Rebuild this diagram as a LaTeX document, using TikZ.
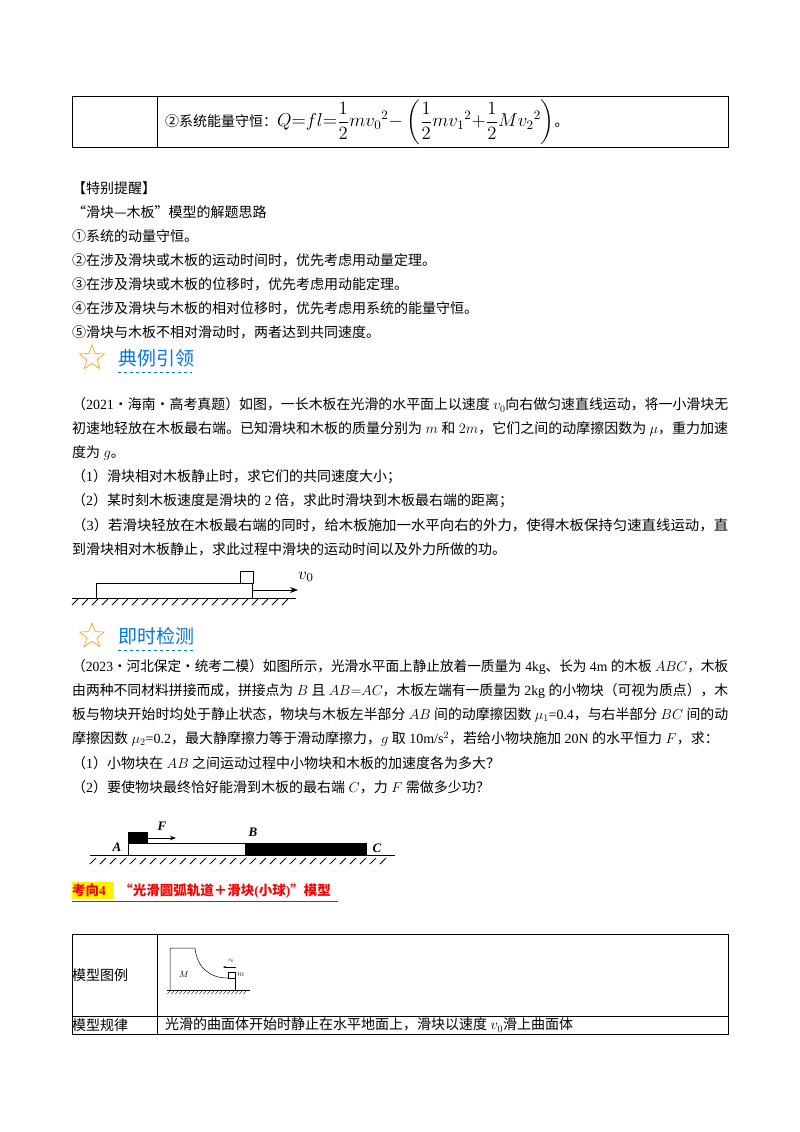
\documentclass[tikz,border=0pt]{standalone}
\usepackage{fontspec}
\usepackage{amsmath}
\setmainfont{Liberation Serif}
\newfontfamily\cjk{Noto Sans CJK SC}
\newcommand\lat[1]{{\rmfamily #1}}
\newcommand\fl[1]{\resizebox{656pt}{\height}{#1}}
\usetikzlibrary{shapes.geometric,arrows.meta,patterns}
\begin{document}
\begin{tikzpicture}[x=1pt,y=-1pt,
  txt/.style={anchor=west,inner sep=0,font=\cjk\fontsize{14}{16}\selectfont},
  head/.style={anchor=west,inner sep=0,text=blue!55!cyan,font=\cjk\fontsize{19}{22}\selectfont},
  stars/.style={star,star points=5,star point ratio=2.4,draw=orange!80!yellow,minimum size=26pt,inner sep=0,line width=0.6pt}]
\useasboundingbox (0,0) rectangle (800,1132);
\fill[white] (0,0) rectangle (800,1132);
% table 1
\draw[line width=0.8pt] (72,96) rectangle (728,147) (157,96) -- (157,147);
\node[txt] (f1) at (165,122) {②系统能量守恒：\scalebox{1.3}{\lat{$Q{=}fl{=}\dfrac12mv_0{}^2{-}\left(\dfrac12mv_1{}^2{+}\dfrac12Mv_2{}^2\right)$}}。};
\node[txt] (t1) at (72,188) {【特别提醒】};
\node[txt] (t2) at (72,212) {“滑块—木板”模型的解题思路};
\node[txt] (t3) at (72,236) {①系统的动量守恒。};
\node[txt] (t4) at (72,260) {②在涉及滑块或木板的运动时间时，优先考虑用动量定理。};
\node[txt] (t5) at (72,284) {③在涉及滑块或木板的位移时，优先考虑用动能定理。};
\node[txt] (t6) at (72,308) {④在涉及滑块与木板的相对位移时，优先考虑用系统的能量守恒。};
\node[txt] (t7) at (72,332) {⑤滑块与木板不相对滑动时，两者达到共同速度。};
\node[stars] (s1) at (92,358) {};
\node[head] (h1) at (118,358) {典例引领};
\draw[blue!55!cyan,dashed] (118,372) -- (192,372);
\node[txt] (p1) at (72,405) {\fl{（\lat{2021}·海南·高考真题）如图，一长木板在光滑的水平面上以速度\lat{ $v_0$}向右做匀速直线运动，将一小滑块无}};
\node[txt] (p2) at (72,429) {\fl{初速地轻放在木板最右端。已知滑块和木板的质量分别为\lat{ $m$ }和\lat{ $2m$}，它们之间的动摩擦因数为\lat{ $\mu$}，重力加速}};
\node[txt] (p3) at (72,453) {度为\lat{ $g$}。};
\node[txt] (p4) at (72,477) {（\lat{1}）滑块相对木板静止时，求它们的共同速度大小；};
\node[txt] (p5) at (72,501) {（\lat{2}）某时刻木板速度是滑块的\lat{ 2 }倍，求此时滑块到木板最右端的距离；};
\node[txt] (p6) at (72,525) {\fl{（\lat{3}）若滑块轻放在木板最右端的同时，给木板施加一水平向右的外力，使得木板保持匀速直线运动，直}};
\node[txt] (p7) at (72,549) {到滑块相对木板静止，求此过程中滑块的运动时间以及外力所做的功。};
% figure 1
\draw[line width=1pt] (72,598) -- (296,598);
\foreach \x in {78,88,...,294} \draw[line width=1pt] (\x,599) -- ++(-6,6);
\draw[line width=0.7pt] (96,598) -- (96,583) -- (252,583) -- (252,598);
\draw[line width=0.7pt] (240,583) rectangle (253,571);
\draw[-{Stealth[length=8pt]},line width=0.8pt] (253,590) -- (298,590);
\node[inner sep=0] (v0) at (306,577) {\scalebox{1.7}{$v_0$}};
\node[stars] (s2) at (92,636) {};
\node[head] (h2) at (118,636) {即时检测};
\draw[blue!55!cyan,dashed] (118,650) -- (196,650);
\node[txt] (q1) at (72,667) {\fl{（\lat{2023}·河北保定·统考二模）如图所示，光滑水平面上静止放着一质量为\lat{ 4kg}、长为\lat{ 4m }的木板\lat{ $ABC$}，木板}};
\node[txt] (q2) at (72,691) {\fl{由两种不同材料拼接而成，拼接点为\lat{ $B$ }且\lat{ $AB{=}AC$}，木板左端有一质量为\lat{ 2kg }的小物块（可视为质点），木}};
\node[txt] (q3) at (72,715) {\fl{板与物块开始时均处于静止状态，物块与木板左半部分\lat{ $AB$ }间的动摩擦因数\lat{ $\mu_1$=0.4}，与右半部分\lat{ $BC$ }间的动}};
\node[txt] (q4) at (72,739) {摩擦因数\lat{ $\mu_2$=0.2}，最大静摩擦力等于滑动摩擦力，\lat{$g$ }取\lat{ 10m/s$^2$}，若给小物块施加\lat{ 20N }的水平恒力\lat{ $F$}，求：};
\node[txt] (q5) at (72,763) {（\lat{1}）小物块在\lat{ $AB$ }之间运动过程中小物块和木板的加速度各为多大？};
\node[txt] (q6) at (72,787) {（\lat{2}）要使物块最终恰好能滑到木板的最右端\lat{ $C$}，力\lat{ $F$ }需做多少功？};
% figure 2
\draw[line width=1pt] (90,855) -- (395,855);
\foreach \x in {96,106,...,390} \draw[line width=0.9pt] (\x,858) -- ++(-6,6);
\draw[line width=0.9pt] (128,855) -- (128,843) -- (245,843) -- (245,855);
\fill (245,843) rectangle (367,855);
\fill (128,832) rectangle (148,843);
\draw[-{Stealth[length=6pt]},line width=0.9pt] (148,838) -- (176,838);
\node[inner sep=0,font=\bfseries\itshape\fontsize{13}{13}\selectfont] (F) at (162,826) {F};
\node[inner sep=0,font=\bfseries\itshape\fontsize{13}{13}\selectfont] (A) at (117,847) {A};
\node[inner sep=0,font=\bfseries\itshape\fontsize{13}{13}\selectfont] (B) at (253,832) {B};
\node[inner sep=0,font=\bfseries\itshape\fontsize{13}{13}\selectfont] (C) at (377,848) {C};
% heading 4
\fill[yellow] (72,882) rectangle (114,899);
\node[txt,text=red,font=\cjk\bfseries\fontsize{13.5}{15}\selectfont] (h4) at (72,891) {考向\lat{4}\quad“光滑圆弧轨道＋滑块\lat{(}小球\lat{)}”模型};
\draw[red,line width=0.6pt] (72,901) -- (338,901);
% table 2
\draw[line width=0.8pt] (72,934) rectangle (728,1034) (157,934) -- (157,1034) (72,1016) -- (728,1016);
\node[txt] (m1) at (72,975) {模型图例};
\node[txt] (m2) at (72,1025) {模型规律};
\node[txt] (m3) at (165,1025) {光滑的曲面体开始时静止在水平地面上，滑块以速度\lat{ $v_0$}滑上曲面体};
% figure 3
\draw[line width=0.5pt] (167,990) -- (250,990);
\foreach \x in {170,174,...,248} \draw[line width=0.4pt] (\x,991) -- ++(-2.5,3);
\draw[line width=0.5pt] (170,990) -- (170,948) -- (195,948) .. controls (197,968) and (210,978) .. (228,978);
\draw[line width=0.5pt] (228,972) rectangle (235,978) (235,978) -- (235,990);
\draw[-{Stealth[length=3pt]},line width=0.4pt] (236,967) -- (223,967);
\node[inner sep=0] (v1) at (231,961) {\scalebox{0.6}{$v_0$}};
\node[inner sep=0] (M) at (184,974) {\scalebox{0.9}{$M$}};
\node[inner sep=0] (m) at (241,975) {\scalebox{0.8}{$m$}};
\end{tikzpicture}
\end{document}
